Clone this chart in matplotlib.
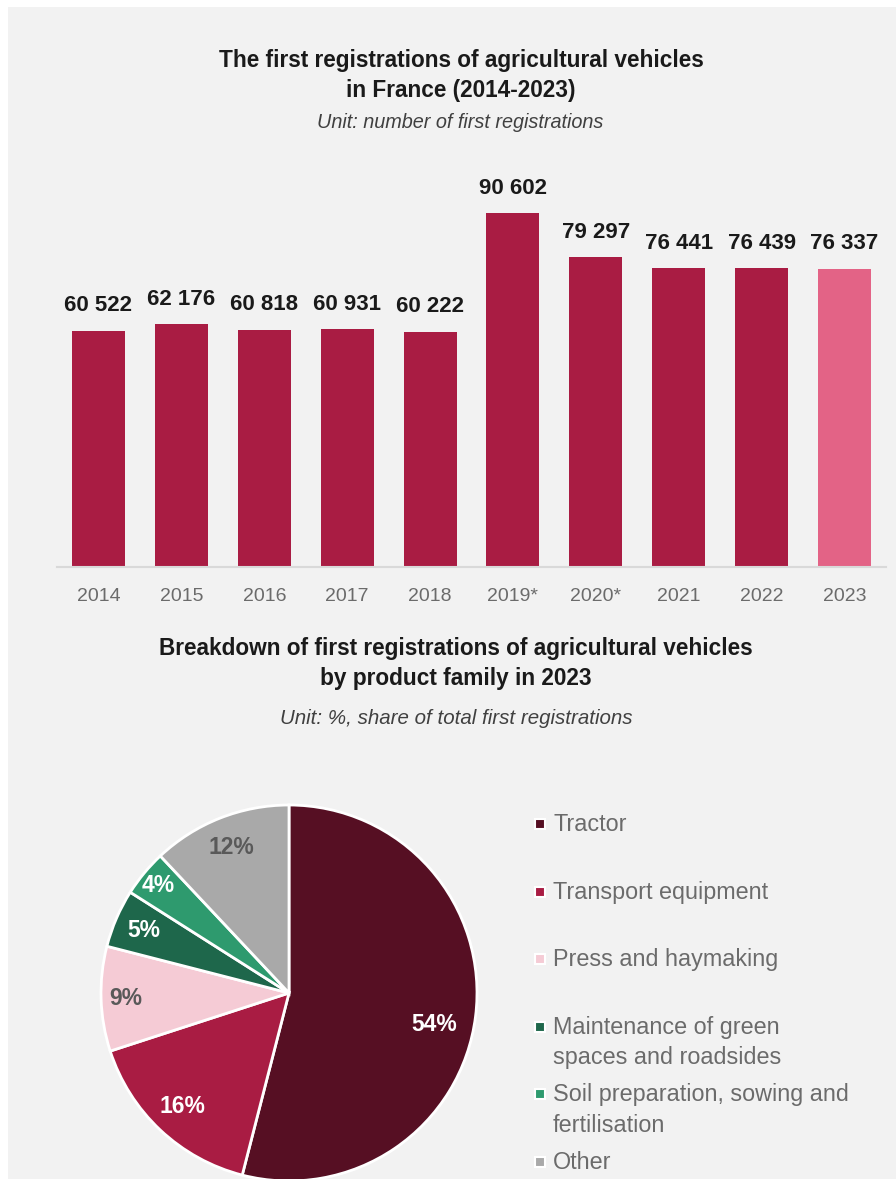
import matplotlib
matplotlib.use("Agg")
import matplotlib.pyplot as plt
import numpy as np
from matplotlib.patches import Rectangle

# ── data ────────────────────────────────────────────────────────────────
YEARS = ["2014", "2015", "2016", "2017", "2018", "2019*", "2020*", "2021", "2022", "2023"]
REGISTRATIONS = [60522, 62176, 60818, 60931, 60222, 90602, 79297, 76441, 76439, 76337]

FAMILIES = ["Tractor", "Transport equipment", "Press and haymaking",
            "Maintenance of green\nspaces and roadsides",
            "Soil preparation, sowing and\nfertilisation", "Other"]
SHARES = [54, 16, 9, 5, 4, 12]

# ── style ───────────────────────────────────────────────────────────────
W, H = 896, 1179
BG = "#f2f2f2"
BAR_COLOR = "#a91c43"
LAST_COLOR = "#e36386"
PIE_COLORS = ["#560f23", "#a91c43", "#f5cbd5", "#1e674b", "#2e9a6e", "#a9a9a9"]
PCT_COLORS = ["white", "white", "#595959", "white", "white", "#595959"]
PCT_DIST = [0.79, 0.83, 0.87, 0.84, 0.90, 0.83]
PCT_SHIFT = [-5.2, 0, 0, 0, 0, 0]  # degrees, nudges the label along the arc
DARK = "#1a1a1a"
GREY_TXT = "#6b6b6b"

plt.rcParams["font.family"] = ["Liberation Sans", "DejaVu Sans"]


def fx(px):
    return px / W


def fy(py):
    return 1 - py / H


fig = plt.figure(figsize=(W / 100, H / 100), dpi=100, facecolor="white")
fig.add_artist(Rectangle((fx(8), 0), 1 - fx(8), fy(7), transform=fig.transFigure,
                         facecolor=BG, edgecolor="none", zorder=-10))

# ── bar chart ───────────────────────────────────────────────────────────
ax = fig.add_axes([fx(57), fy(567.3), fx(886) - fx(57), (567.3 - 176.3) / H])
ax.set_facecolor("none")
x = np.arange(len(YEARS))
colors = [BAR_COLOR] * (len(YEARS) - 1) + [LAST_COLOR]
bars = ax.bar(x, REGISTRATIONS, width=0.64, color=colors)
for bar, v in zip(bars, REGISTRATIONS):
    ax.annotate(f"{v:,}".replace(",", " "),
                (bar.get_x() + bar.get_width() / 2, bar.get_height()),
                xytext=(0, 14), textcoords="offset points",
                ha="center", va="baseline", fontsize=16, fontweight="bold", color=DARK)
ax.set_xlim(-0.5, len(YEARS) - 0.5)
ax.set_ylim(0, 100000)
ax.set_xticks(x)
ax.set_xticklabels(YEARS, fontsize=14, color=GREY_TXT)
ax.tick_params(axis="x", length=0, pad=15)
ax.set_yticks([])
for s in ["top", "right", "left"]:
    ax.spines[s].set_visible(False)
ax.spines["bottom"].set_color("#d9d9d9")
ax.spines["bottom"].set_linewidth(1.5)

fig.text(fx(461), fy(61), "The first registrations of agricultural vehicles",
         ha="center", va="center", fontsize=16.3, fontweight="bold", color=DARK)
fig.text(fx(461), fy(90), "in France (2014-2023)",
         ha="center", va="center", fontsize=16.3, fontweight="bold", color=DARK)
fig.text(fx(460), fy(123), "Unit: number of first registrations",
         ha="center", va="center", fontsize=14.3, style="italic", color="#404040")

# ── pie chart ───────────────────────────────────────────────────────────
cx, cy, r = 289, 993, 188
pax = fig.add_axes([fx(cx - r), fy(cy + r), 2 * r / W, 2 * r / H])
pax.set_facecolor("none")
wedges, _ = pax.pie(SHARES, colors=PIE_COLORS, startangle=90, counterclock=False,
                    radius=1, wedgeprops=dict(edgecolor="white", linewidth=2))
pax.set_xlim(-1, 1)
pax.set_ylim(-1, 1)
pax.axis("off")
for w, s, c, d, sh in zip(wedges, SHARES, PCT_COLORS, PCT_DIST, PCT_SHIFT):
    ang = np.deg2rad((w.theta1 + w.theta2) / 2 + sh)
    pax.text(d * np.cos(ang), d * np.sin(ang), f"{s}%", ha="center", va="center",
             fontsize=16.5, fontweight="bold", color=c)

fig.text(fx(456), fy(649), "Breakdown of first registrations of agricultural vehicles",
         ha="center", va="center", fontsize=16.3, fontweight="bold", color=DARK)
fig.text(fx(456), fy(678), "by product family in 2023",
         ha="center", va="center", fontsize=16.3, fontweight="bold", color=DARK)
fig.text(fx(456), fy(719), "Unit: %, share of total first registrations",
         ha="center", va="center", fontsize=14.8, style="italic", color="#404040")

# legend
for i, (lab, col) in enumerate(zip(FAMILIES, PIE_COLORS)):
    y0 = 824 + 67.6 * i
    fig.add_artist(Rectangle((fx(535), fy(y0 + 5)), 10 / W, 10 / H,
                             transform=fig.transFigure, facecolor=col,
                             edgecolor="white", linewidth=1.5))
    fig.text(fx(553), fy(y0 - 11), lab, ha="left", va="top", fontsize=16.8,
             color=GREY_TXT, linespacing=1.42)

fig.savefig("out.png", dpi=100, facecolor=fig.get_facecolor())
